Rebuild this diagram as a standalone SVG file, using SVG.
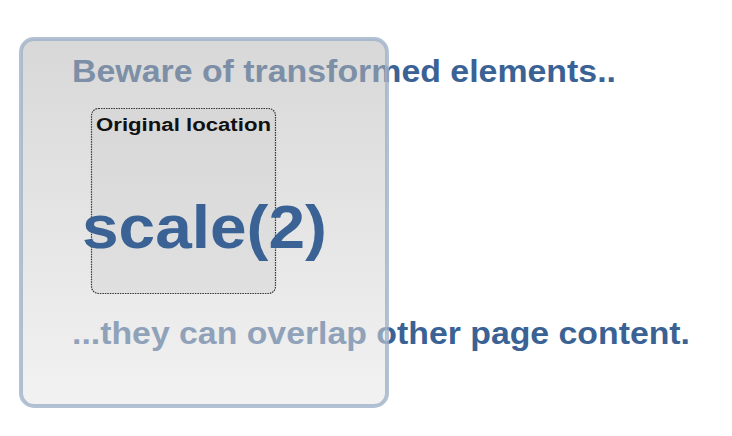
<svg xmlns="http://www.w3.org/2000/svg" width="732" height="436" viewBox="0 0 732 436">
<style>
.t{font-family:"Liberation Sans",Arial,sans-serif;font-weight:bold;fill:#3a6294}
.lbl{font-family:"Liberation Sans",Arial,sans-serif;font-weight:bold;fill:#111}
</style>
<defs>
<linearGradient id="g" x1="0" y1="0" x2="0" y2="1">
<stop offset="0" stop-color="#b4b4b4"/>
<stop offset="1" stop-color="#e6e6e6"/>
</linearGradient>
</defs>
<rect width="732" height="436" fill="#fff"/>
<g id="text-top"><text class="t" x="72" y="82" font-size="32" textLength="544" lengthAdjust="spacingAndGlyphs">Beware of transformed elements..</text></g>
<g id="text-bottom"><text class="t" x="72" y="344" font-size="31" textLength="618" lengthAdjust="spacingAndGlyphs">...they can overlap other page content.</text></g>
<g id="scaled-box">
<rect x="21" y="39" width="366" height="367" rx="13" fill="url(#g)" fill-opacity="0.52" stroke="#9fb2c8" stroke-opacity="0.8" stroke-width="4"/>
</g>
<g id="original">
<rect x="91.5" y="108.5" width="184" height="185" rx="7" fill="#cfcfcf" fill-opacity="0.35" stroke="#333" stroke-width="1.2" stroke-dasharray="1.5 1"/>
<text class="lbl" x="96" y="131" font-size="17.5" textLength="175" lengthAdjust="spacingAndGlyphs">Original location</text>
</g>
<g id="scale"><text class="t" x="82" y="248" font-size="62" textLength="245" lengthAdjust="spacingAndGlyphs">scale(2)</text></g>
</svg>
